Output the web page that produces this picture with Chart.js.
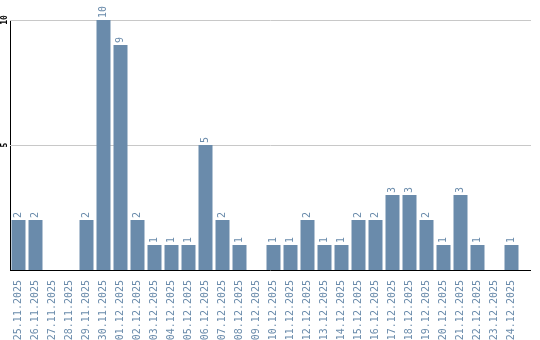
<!DOCTYPE html>
<html>
<head>
    <title>Bars per day</title>
    <script src="https://cdn.jsdelivr.net/npm/chart.js"></script>
    <style>
        body { margin: 0; padding: 0; background: #ffffff; }
        #c { display: block; }
    </style>
</head>
<body>
    <canvas id="c" width="540" height="340"></canvas>

    <script>
        // data
        const days = [
            '25.11.2025', '26.11.2025', '27.11.2025', '28.11.2025', '29.11.2025',
            '30.11.2025', '01.12.2025', '02.12.2025', '03.12.2025', '04.12.2025',
            '05.12.2025', '06.12.2025', '07.12.2025', '08.12.2025', '09.12.2025',
            '10.12.2025', '11.12.2025', '12.12.2025', '13.12.2025', '14.12.2025',
            '15.12.2025', '16.12.2025', '17.12.2025', '18.12.2025', '19.12.2025',
            '20.12.2025', '21.12.2025', '22.12.2025', '23.12.2025', '24.12.2025'
        ];
        const counts = [2, 2, 0, 0, 2, 10, 9, 2, 1, 1, 1, 5, 2, 1, 0, 1, 1, 2, 1, 1, 2, 2, 3, 3, 2, 1, 3, 1, 0, 1];
        const yTicks = [5, 10];

        const barColor = '#6a8bab';
        const mono = '"DejaVu Sans Mono", "Liberation Mono", monospace';
        const lineEnd = 531; // grid lines and base line run a bit past the last category

        // grid lines behind the bars
        const gridLines = {
            id: 'gridLines',
            beforeDatasetsDraw(chart) {
                const ctx = chart.ctx;
                const y = chart.scales.y;
                ctx.save();
                ctx.strokeStyle = '#c8c8c8';
                ctx.lineWidth = 1;
                yTicks.forEach(t => {
                    const py = Math.round(y.getPixelForValue(t)) + 0.5;
                    ctx.beginPath();
                    ctx.moveTo(chart.chartArea.left, py);
                    ctx.lineTo(lineEnd, py);
                    ctx.stroke();
                });
                ctx.restore();
            }
        };

        // value labels above bars + axis stuff
        const overlay = {
            id: 'overlay',
            afterDatasetsDraw(chart) {
                const ctx = chart.ctx;
                const meta = chart.getDatasetMeta(0);
                ctx.save();
                ctx.fillStyle = barColor;
                ctx.font = '10px ' + mono;
                ctx.textAlign = 'left';
                ctx.textBaseline = 'middle';
                meta.data.forEach((bar, i) => {
                    const v = counts[i];
                    if (!v) return;
                    ctx.save();
                    ctx.translate(bar.x, bar.y - 2);
                    ctx.rotate(-Math.PI / 2);
                    ctx.fillText(String(v), 0, 0);
                    ctx.restore();
                });
                ctx.restore();
            },
            afterDraw(chart) {
                const ctx = chart.ctx;
                const y = chart.scales.y;
                const area = chart.chartArea;
                ctx.save();
                // base line
                ctx.strokeStyle = '#000000';
                ctx.lineWidth = 1;
                const by = Math.round(area.bottom) + 0.5;
                ctx.beginPath();
                ctx.moveTo(area.left, by);
                ctx.lineTo(lineEnd, by);
                ctx.stroke();
                // rotated y labels
                ctx.fillStyle = '#000000';
                ctx.font = 'bold 8px ' + mono;
                ctx.textAlign = 'center';
                ctx.textBaseline = 'middle';
                yTicks.forEach(t => {
                    ctx.save();
                    ctx.translate(5, y.getPixelForValue(t));
                    ctx.rotate(-Math.PI / 2);
                    ctx.fillText(String(t), 0, 0);
                    ctx.restore();
                });
                ctx.restore();
            }
        };

        const chart = new Chart(document.getElementById('c').getContext('2d'), {
            type: 'bar',
            data: {
                labels: days,
                datasets: [{
                    data: counts,
                    backgroundColor: barColor,
                    borderWidth: 0,
                    barPercentage: 14 / 17,
                    categoryPercentage: 1
                }]
            },
            options: {
                responsive: false,
                animation: false,
                layout: { padding: { top: 20, right: 20, left: 0, bottom: 0 } },
                plugins: {
                    legend: { display: false },
                    tooltip: { enabled: false }
                },
                scales: {
                    x: {
                        grid: { display: false },
                        border: { display: false },
                        ticks: {
                            color: barColor,
                            font: { family: mono, size: 10 },
                            minRotation: 90,
                            maxRotation: 90,
                            autoSkip: false,
                            padding: 2
                        },
                        afterFit(scale) { scale.height = 70; }
                    },
                    y: {
                        min: 0,
                        max: 10,
                        ticks: { display: false, stepSize: 5 },
                        grid: { display: false },
                        border: { color: '#000000', width: 1 },
                        afterFit(scale) { scale.width = 10; }
                    }
                }
            },
            plugins: [gridLines, overlay]
        });
    </script>
</body>
</html>
